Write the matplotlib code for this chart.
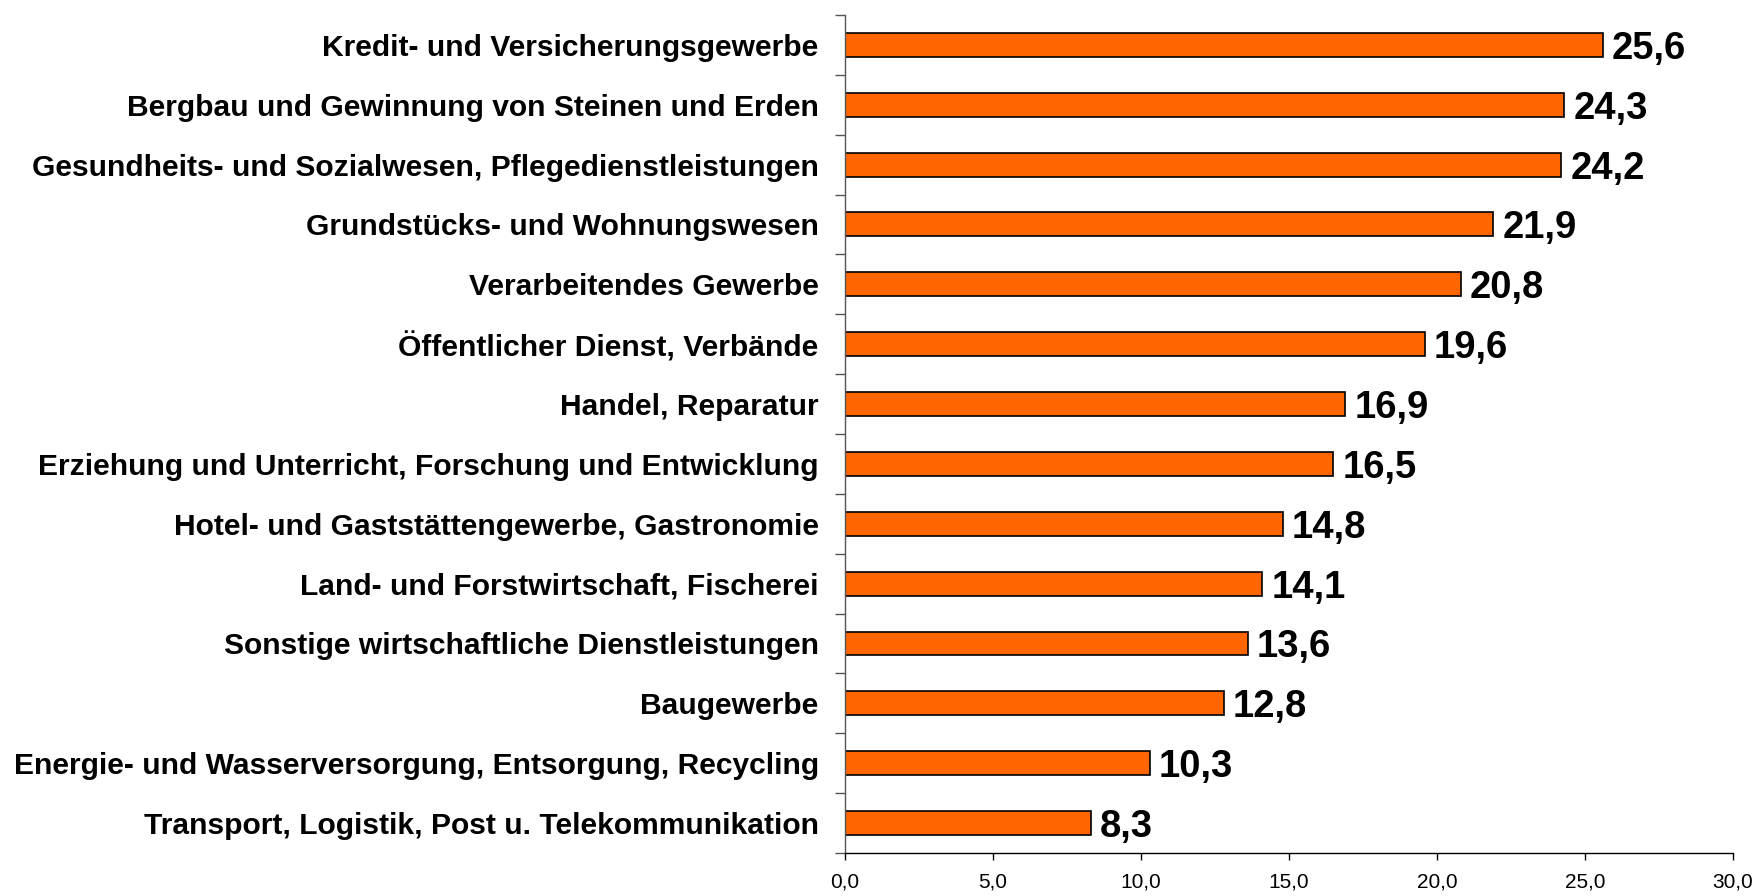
import numpy as np
import matplotlib
matplotlib.use("Agg")
import matplotlib.pyplot as plt
from matplotlib.ticker import FixedLocator

# branches, top to bottom
branchen = [
    "Kredit- und Versicherungsgewerbe",
    "Bergbau und Gewinnung von Steinen und Erden",
    "Gesundheits- und Sozialwesen, Pflegedienstleistungen",
    "Grundstücks- und Wohnungswesen",
    "Verarbeitendes Gewerbe",
    "Öffentlicher Dienst, Verbände",
    "Handel, Reparatur",
    "Erziehung und Unterricht, Forschung und Entwicklung",
    "Hotel- und Gaststättengewerbe, Gastronomie",
    "Land- und Forstwirtschaft, Fischerei",
    "Sonstige wirtschaftliche Dienstleistungen",
    "Baugewerbe",
    "Energie- und Wasserversorgung, Entsorgung, Recycling",
    "Transport, Logistik, Post u. Telekommunikation",
]
werte = [25.6, 24.3, 24.2, 21.9, 20.8, 19.6, 16.9, 16.5, 14.8, 14.1, 13.6, 12.8, 10.3, 8.3]
x_ticks = [0, 5, 10, 15, 20, 25, 30]

plt.rcParams['font.family'] = ['Liberation Sans', 'DejaVu Sans']

fig = plt.figure(figsize=(17.58, 8.96), dpi=100)
ax = fig.add_axes([0.4807, 0.048, 0.5051, 0.9353])

y = np.arange(len(werte))[::-1]
ax.barh(y, werte, height=0.4, color='#FF6600', edgecolor='black', linewidth=1.2)

for yi, v in zip(y, werte):
    ax.text(v + 0.3, yi, f"{v:.1f}".replace('.', ','), va='center_baseline', ha='left',
            fontsize=27.5, fontweight='bold')

ax.set_xlim(0, 30)
ax.set_ylim(-0.5, len(werte) - 0.5)

ax.set_yticks(y)
ax.set_yticklabels(branchen, fontsize=21.6, fontweight='bold')
ax.tick_params(axis='y', which='major', length=0, pad=19)
ax.yaxis.set_minor_locator(FixedLocator(np.arange(-0.5, len(werte), 1.0)))
ax.tick_params(axis='y', which='minor', length=7, width=1, color='#555555')

ax.set_xticks(x_ticks)
ax.set_xticklabels([f"{t:.1f}".replace('.', ',') for t in x_ticks],
                   fontsize=15, family=['Liberation Sans Narrow', 'Liberation Sans'])
ax.tick_params(axis='x', length=5, width=1, pad=9)

for s in ['top', 'right']:
    ax.spines[s].set_visible(False)
ax.spines['left'].set_color('#555555')
ax.spines['left'].set_linewidth(1)
ax.spines['bottom'].set_linewidth(1)

fig.savefig("out.png", dpi=100)
